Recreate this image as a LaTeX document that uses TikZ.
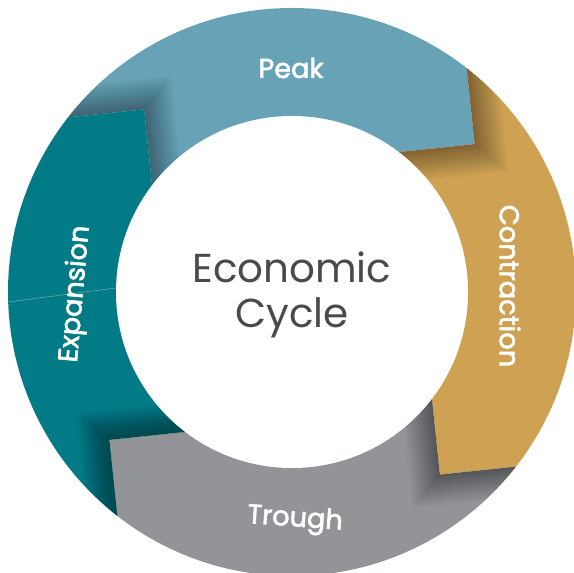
\documentclass[tikz,border=0pt]{standalone}
\usepackage{fontspec}
\setmainfont{Poppins}
\newfontfamily\labelfont[FakeBold=2.2]{Poppins}
\usetikzlibrary{positioning}
\definecolor{peakcol}{HTML}{68A2B7}
\definecolor{contcol}{HTML}{CFA152}
\definecolor{troughcol}{HTML}{939497}
\definecolor{expcol}{HTML}{037B87}
\definecolor{textcol}{HTML}{4A4A4C}

\begin{document}
\begin{tikzpicture}[x=0.02cm,y=0.02cm,
  phase/.style={text=white,font=\labelfont\fontsize{15.5}{18}\selectfont},
  shadowline/.style={black,opacity=0.012,line join=miter}]
 \useasboundingbox (-292,-281) rectangle (282,292);
 \coordinate (O) at (0,0); %中心O

 \begin{scope}
  \clip (O) circle [radius=284]; %外円
  \foreach \k/\col in {0/peakcol,1/contcol,2/troughcol,3/expcol}{
   \begin{scope}[rotate=-90*\k]
    \coordinate (Cp) at (-147.9,182.6); %前の帯の角
    \coordinate (A) at (-257.3,171.1); %前の角から外へ
    \coordinate (E) at (-136.4,73.2); %前の角から内へ
    \coordinate (Cs) at (182.6,147.9); %この帯の角
    \coordinate (B) at (171.1,257.3); %この角から外へ
    \coordinate (D) at (73.2,136.4); %この角から内へ
    \fill[\col] (E)--(Cp)--(A)--(150:500)--(90:500)--(30:500)--(B)--(Cs)--(D)--cycle;
    \begin{scope}
     \clip (E)--(Cp)--(A)--(150:500)--(90:500)--(30:500)--(B)--(Cs)--(D)--cycle;
     \foreach \w in {2,4,...,62}
      \draw[shadowline,line width=\w*0.02cm] (A)--(Cp)--(E); %影
    \end{scope}
   \end{scope}
  }
  \draw[expcol!60!white,line width=0.3pt] (-284,-10)--(-176,4); %継ぎ目
 \end{scope}
 \fill[white] (O) circle [radius=176]; %内円

 \node[phase] (peak) at (-1,224) {Peak};
 \node[phase,rotate=-90] (contraction) at (218,6) {Contraction};
 \node[phase,rotate=-4] (trough) at (3,-228) {Trough};
 \node[phase,rotate=85] (expansion) at (-216,-2) {Expansion};
 \node[align=center,text=textcol,font=\fontsize{23}{26}\selectfont] (cycle) at (0,-3) {Economic\\Cycle};
\end{tikzpicture}
\end{document}
